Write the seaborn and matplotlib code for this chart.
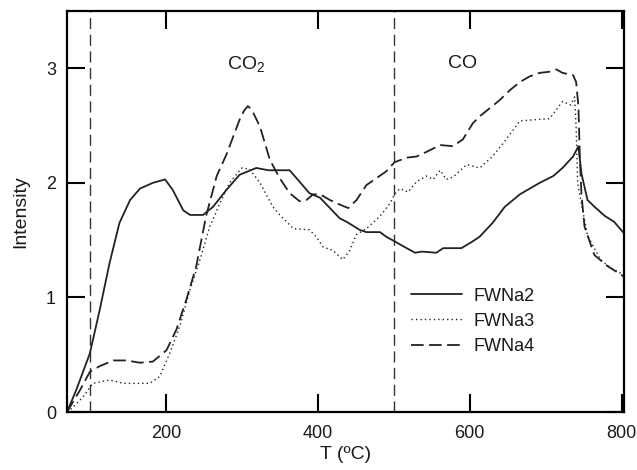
import numpy as np
import pandas as pd
import matplotlib
matplotlib.use("Agg")
import matplotlib.pyplot as plt
import seaborn as sns

# ---- data ----
t_fwna2 = [70, 82, 100, 113, 126, 139, 153, 166, 183, 199, 209, 223, 232, 249, 262, 280, 297,
           319, 335, 350, 363, 376, 389, 403, 416, 429, 438, 455, 464, 482, 490, 501, 517,
           528, 537, 556, 565, 589, 604, 613, 630, 646, 666, 679, 692, 710, 722, 736, 743,
           747, 755, 766, 778, 790, 799, 803]
i_fwna2 = [0.0, 0.19, 0.51, 0.89, 1.30, 1.65, 1.85, 1.95, 2.00, 2.03, 1.94, 1.76, 1.72, 1.72,
           1.79, 1.94, 2.07, 2.13, 2.11, 2.11, 2.11, 2.01, 1.91, 1.87, 1.78, 1.69, 1.66, 1.59,
           1.57, 1.57, 1.53, 1.49, 1.43, 1.39, 1.40, 1.39, 1.43, 1.43, 1.49, 1.53, 1.65, 1.79,
           1.90, 1.95, 2.00, 2.06, 2.13, 2.23, 2.32, 2.08, 1.85, 1.78, 1.71, 1.66, 1.59, 1.56]

t_fwna3 = [70, 76, 91, 104, 126, 144, 179, 192, 205, 218, 232, 245, 258, 271, 284, 300, 310,
           324, 341, 350, 368, 389, 398, 407, 420, 433, 442, 451, 464, 482, 495, 501, 508,
           519, 530, 543, 552, 561, 569, 578, 596, 613, 630, 648, 666, 683, 705, 712, 722,
           733, 738, 740, 742, 746, 755, 772, 785, 799, 803]
i_fwna3 = [0.0, 0.03, 0.13, 0.25, 0.28, 0.25, 0.25, 0.31, 0.51, 0.74, 1.07, 1.33, 1.62, 1.82,
           2.00, 2.13, 2.12, 2.00, 1.79, 1.72, 1.60, 1.59, 1.53, 1.44, 1.41, 1.33, 1.41, 1.55,
           1.60, 1.71, 1.82, 1.90, 1.95, 1.92, 2.01, 2.06, 2.03, 2.11, 2.03, 2.05, 2.16, 2.13,
           2.23, 2.38, 2.54, 2.55, 2.56, 2.62, 2.71, 2.68, 2.75, 2.49, 2.00, 1.85, 1.54, 1.33,
           1.26, 1.21, 1.19]

t_fwna4 = [70, 87, 100, 113, 131, 148, 166, 183, 201, 214, 227, 240, 253, 267, 280, 297, 303,
           308, 313, 324, 337, 350, 363, 376, 385, 394, 403, 416, 429, 440, 451, 464, 477,
           490, 501, 517, 530, 543, 561, 578, 591, 604, 613, 626, 639, 653, 666, 679, 692,
           705, 714, 722, 736, 740, 743, 745, 747, 751, 764, 782, 799, 803]
i_fwna4 = [0.0, 0.19, 0.35, 0.40, 0.45, 0.45, 0.43, 0.44, 0.54, 0.72, 0.98, 1.27, 1.71, 2.06,
           2.25, 2.55, 2.63, 2.67, 2.64, 2.49, 2.20, 2.04, 1.91, 1.84, 1.85, 1.90, 1.90, 1.85,
           1.81, 1.78, 1.85, 1.98, 2.04, 2.10, 2.18, 2.22, 2.23, 2.27, 2.33, 2.32, 2.38, 2.52,
           2.58, 2.65, 2.72, 2.81, 2.88, 2.93, 2.96, 2.97, 2.99, 2.96, 2.94, 2.88, 2.67, 2.20,
           1.90, 1.62, 1.37, 1.27, 1.20, 1.18]

series_names = ["FWNa2", "FWNa3", "FWNa4"]
region_lines = [100, 500]
region_labels = ["CO$_2$", "CO"]
region_label_x = [306, 591]
x_ticks = [200, 400, 600, 800]
y_ticks = [0, 1, 2, 3]

# ---- styling ----
sns.set_style("ticks")
plt.rcParams["font.family"] = ["Liberation Sans", "DejaVu Sans"]
plt.rcParams["mathtext.default"] = "regular"
text_color = "#1a1a1a"
plt.rcParams["text.color"] = text_color
plt.rcParams["axes.labelcolor"] = text_color
plt.rcParams["xtick.color"] = "black"
plt.rcParams["ytick.color"] = "black"
plt.rcParams["xtick.labelcolor"] = text_color
plt.rcParams["ytick.labelcolor"] = text_color

fig = plt.figure(figsize=(6.37, 4.70), dpi=100)
ax = fig.add_axes([0.1052, 0.1234, 0.8744, 0.8532])

line_color = "#222222"
styles = {
    "FWNa2": dict(linestyle="-", linewidth=1.3),
    "FWNa3": dict(linestyle=(0, (1, 2.2)), linewidth=1.0),
    "FWNa4": dict(linestyle=(0, (7, 3)), linewidth=1.3),
}
data = {
    "FWNa2": (t_fwna2, i_fwna2),
    "FWNa3": (t_fwna3, i_fwna3),
    "FWNa4": (t_fwna4, i_fwna4),
}
for name in series_names:
    t, i = data[name]
    df = pd.DataFrame({"T": t, "I": i})
    sns.lineplot(data=df, x="T", y="I", ax=ax, color=line_color, label=name,
                 estimator=None, sort=False, **styles[name])

for xv in region_lines:
    ax.axvline(xv, color="#333333", linewidth=1.0, linestyle=(0, (8, 4)), zorder=1)

for lab, xv in zip(region_labels, region_label_x):
    ax.text(xv, 3.04, lab, ha="center", va="center", fontsize=14)

ax.set_xlim(70, 803)
ax.set_ylim(0, 3.5)
ax.set_xticks(x_ticks)
ax.set_yticks(y_ticks)
ax.set_xlabel("T (ºC)", fontsize=14, labelpad=3)
ax.set_ylabel("Intensity", fontsize=14, labelpad=12)

for s in ax.spines.values():
    s.set_visible(True)
    s.set_linewidth(1.6)
    s.set_color("black")
ax.tick_params(axis="both", which="major", direction="in", length=13, width=1.5,
               top=True, right=True, labelsize=13)
ax.tick_params(axis="x", pad=9)
ax.tick_params(axis="y", pad=8)

leg = ax.legend(loc="upper left", bbox_to_anchor=(0.618, 0.31), frameon=False,
                fontsize=13, handlelength=2.8, handletextpad=0.65, borderpad=0,
                borderaxespad=0, labelspacing=0.45)

fig.savefig("out.png", dpi=100)
